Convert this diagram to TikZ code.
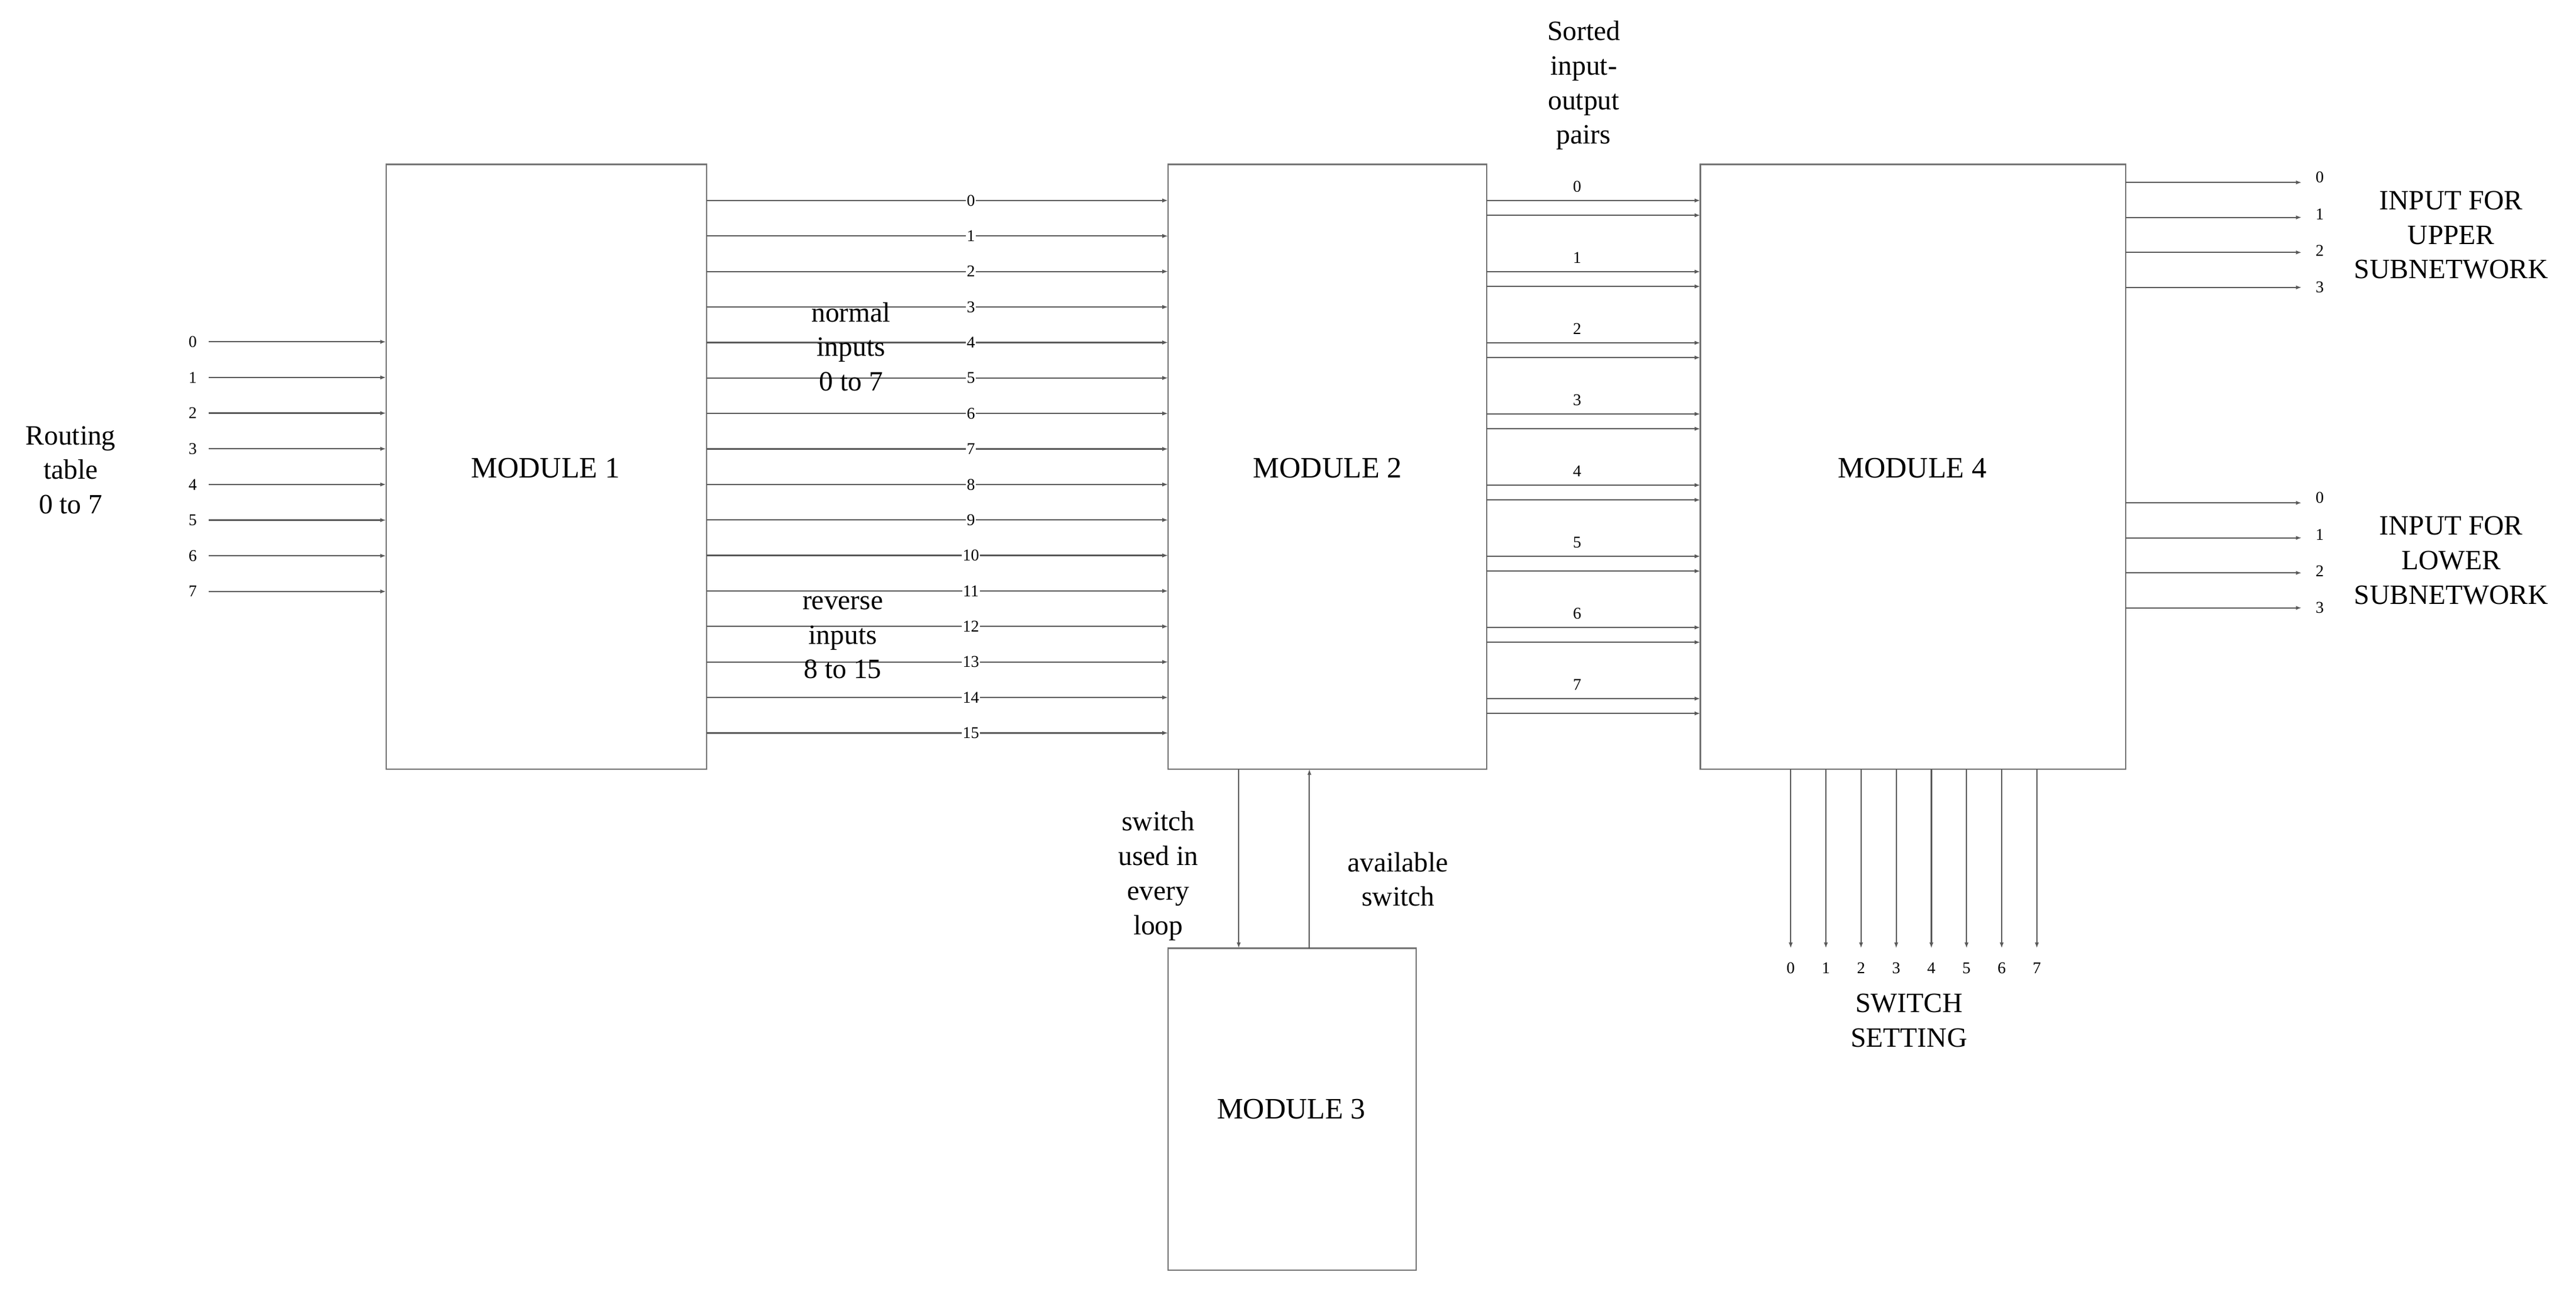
\documentclass[tikz,border=0pt]{standalone}
\usepackage{fontspec}
\setmainfont{Liberation Serif}
\usetikzlibrary{arrows.meta}
\begin{document}
\begin{tikzpicture}[x=1pt,y=-1pt,
  box/.style={draw=black!55,line width=0.8pt},
  wire/.style={draw=black!65,line width=0.8pt,-{Latex[length=3.5pt,width=2.5pt]}},
  num/.style={font=\fontsize{10}{11}\selectfont,inner sep=1pt},
  lab/.style={font=\fontsize{17}{21}\selectfont,align=center},
  mod/.style={font=\fontsize{18}{21}\selectfont}]
\useasboundingbox (0,0) rectangle (1568,784);
\draw[box] (235,100) rectangle (430,468); \node[mod] (m1) at (332,285) {MODULE 1};
\draw[box] (711,100) rectangle (905,468); \node[mod] (m2) at (808,285) {MODULE 2};
\draw[box] (1035,100) rectangle (1294,468); \node[mod] (m4) at (1164,285) {MODULE 4};
\draw[box] (711,577) rectangle (862,773); \node[mod] (m3) at (786,675) {MODULE 3};
% left inputs
\foreach \i in {0,...,7}{
  \coordinate (li\i) at (127,208+21.7*\i); \coordinate (lo\i) at (235,208+21.7*\i);
  \node[num,anchor=east] at (121,208+21.7*\i) {\i};
  \draw[wire] (li\i) -- (lo\i);}
\node[lab] (rt) at (43,286) {Routing\\table\\0 to 7};
% module1 -> module2
\foreach \i in {0,...,15}{
  \coordinate (a\i) at (430,122+21.6*\i); \coordinate (b\i) at (711,122+21.6*\i);
  \draw[wire] (a\i) -- (b\i);
  \node[num,fill=white,inner sep=0.5pt] at (591,122+21.6*\i) {\i};}
\node[lab] (ni) at (518,211) {normal\\inputs\\0 to 7};
\node[lab] (ri) at (513,388) {reverse\\inputs\\8 to 15};
% module2 -> module4
\foreach \i in {0,...,7}{
  \coordinate (c\i) at (905,122+43.3*\i); \coordinate (d\i) at (1035,122+43.3*\i);
  \coordinate (e\i) at (905,131+43.3*\i); \coordinate (f\i) at (1035,131+43.3*\i);
  \draw[wire] (c\i) -- (d\i); \draw[wire] (e\i) -- (f\i);
  \node[num,anchor=south] at (960,118+43.3*\i) {\i};}
\node[lab] (so) at (964,52) {Sorted\\input-\\output\\pairs};
% outputs
\foreach \i in {0,...,3}{
  \coordinate (u\i) at (1294,111+21.3*\i); \coordinate (v\i) at (1401,111+21.3*\i);
  \draw[wire] (u\i) -- (v\i);
  \node[num] at (1412,108+22.3*\i) {\i};
  \coordinate (p\i) at (1294,306+21.3*\i); \coordinate (q\i) at (1401,306+21.3*\i);
  \draw[wire] (p\i) -- (q\i);
  \node[num] at (1412,303+22.3*\i) {\i};}
\node[lab] (up) at (1492,143) {INPUT FOR\\UPPER\\SUBNETWORK};
\node[lab] (lo) at (1492,341) {INPUT FOR\\LOWER\\SUBNETWORK};
% switch setting
\foreach \i in {0,...,7}{
  \coordinate (s\i) at (1090+21.4*\i,468); \coordinate (t\i) at (1090+21.4*\i,577);
  \draw[wire] (s\i) -- (t\i);
  \node[num] at (1090+21.4*\i,589) {\i};}
\node[lab] (ss) at (1162,621) {SWITCH\\SETTING};
% module2 <-> module3
\coordinate (w1) at (754,468); \coordinate (w2) at (754,577);
\coordinate (w3) at (797,577); \coordinate (w4) at (797,468);
\draw[wire] (w1) -- (w2); \draw[wire] (w3) -- (w4);
\node[lab] (su) at (705,533) {switch\\used in\\every\\loop};
\node[lab] (av) at (851,535) {available\\switch};
\end{tikzpicture}
\end{document}
